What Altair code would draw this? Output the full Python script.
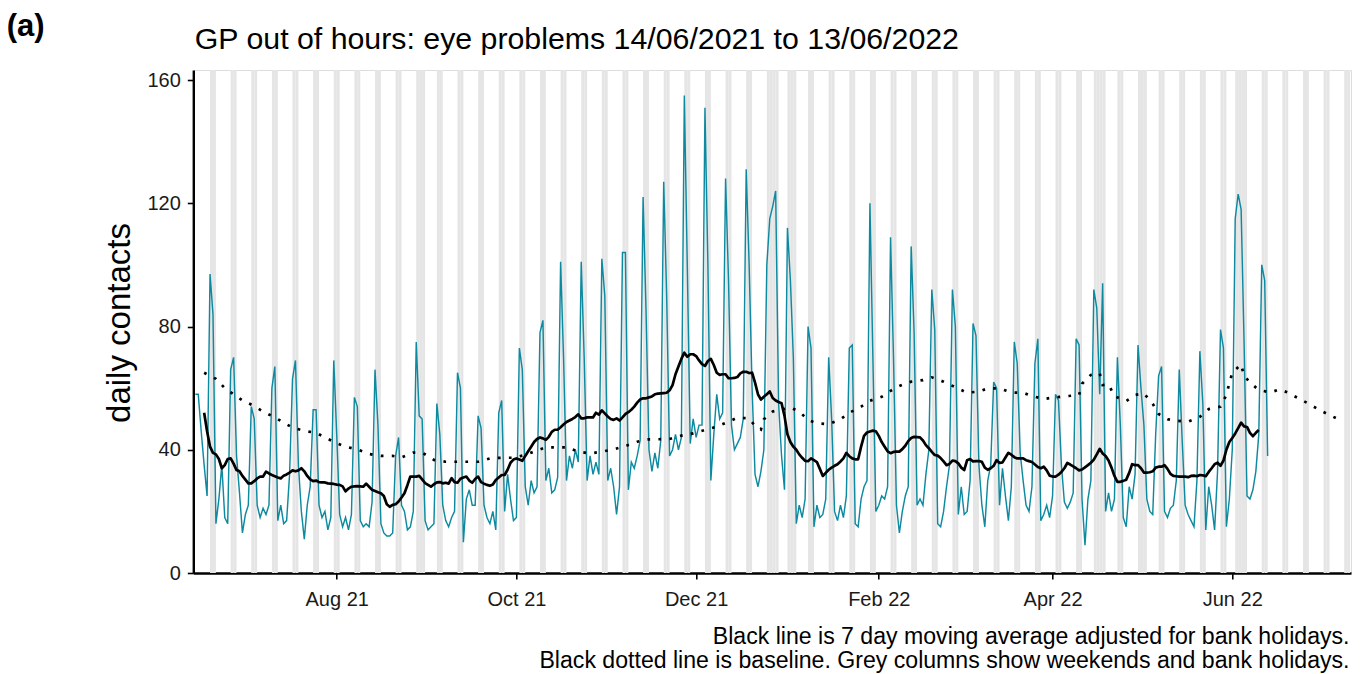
import altair as alt
import pandas as pd

FONT = "Liberation Sans"
TEAL = "#0E8AA0"
SHADE = "#E5E5E5"

START = "2021-06-14"

# daily contacts, Mon 14/06/2021 .. Mon 13/06/2022 (one row per week, Mon..Sun)
contacts = [
    58, 58, 46, 35, 25, 97, 84,
    16, 24, 35, 18, 16, 66, 70,
    38, 26, 13, 19, 22, 54, 50,
    22, 18, 21, 19, 22, 60, 67,
    17, 22, 16, 17, 32, 63, 69,
    35, 20, 11, 22, 28, 53, 53,
    22, 18, 20, 14, 18, 69, 45,
    19, 15, 18, 14, 19, 57, 54,
    17, 15, 16, 15, 23, 66, 48,
    16, 13, 12, 12, 13, 38, 44,
    22, 20, 14, 15, 20, 75, 51,
    50, 17, 14, 15, 16, 55, 45,
    22, 17, 15, 18, 20, 65, 60,
    10, 24, 27, 22, 22, 51, 47,
    22, 18, 16, 20, 14, 52, 56,
    20, 32, 24, 17, 18, 73, 66,
    28, 22, 30, 26, 28, 78, 82,
    30, 34, 26, 27, 31, 101, 70,
    30, 38, 34, 40, 36, 101, 70,
    30, 38, 32, 36, 32, 102, 90,
    30, 34, 28, 19, 28, 104, 104,
    27, 36, 34, 38, 43, 122, 85,
    40, 33, 39, 34, 43, 127, 90,
    38, 40, 45, 40, 44, 155, 100,
    42, 50, 44, 48, 48, 151, 100,
    30, 45, 58, 50, 52, 128, 95,
    48, 40, 42, 44, 50, 131, 100,
    60, 32, 28, 33, 40, 100, 115,
    119, 124, 55, 38, 27, 112, 95,
    70, 16, 22, 18, 24, 80, 73,
    15, 22, 18, 19, 24, 70, 50,
    20, 17, 22, 18, 25, 73, 74,
    16, 15, 24, 28, 30, 120, 70,
    20, 22, 25, 24, 28, 109, 70,
    22, 13, 20, 25, 28, 106, 78,
    22, 24, 22, 32, 40, 92, 79,
    16, 15, 20, 28, 35, 92, 80,
    19, 28, 19, 20, 30, 81, 77,
    35, 22, 15, 30, 35, 62, 60,
    22, 34, 25, 17, 28, 75, 68,
    39, 30, 22, 20, 28, 68, 76,
    17, 19, 22, 18, 25, 58, 56,
    35, 23, 21, 23, 26, 76, 74,
    24, 9, 24, 30, 92, 86, 58,
    94, 20, 26, 20, 24, 70, 48,
    18, 15, 28, 24, 32, 74, 60,
    48, 24, 20, 19, 45, 64, 67,
    20, 18, 21, 22, 30, 66, 43,
    22, 19, 17, 15, 30, 72, 55,
    14, 28, 22, 14, 33, 79, 73,
    15, 24, 40, 115, 123, 118, 75,
    25, 24, 27, 33, 45, 100, 95,
    38,
]

# 7 day moving average (adjusted for bank holidays), first value on day 3
ma_first_day = 3
moving_avg = [
    52, 46, 41, 39, 38.5, 37, 34, 35, 37, 37.2, 35.5, 33.4, 33, 31.5, 30.3, 29.1, 29.1, 29.8,
    30.7, 31.3, 31.3, 32.9, 32.3, 31.8, 31.4, 31, 30.7, 31.6, 32, 32.6, 33.3, 33, 33.3, 34,
    33, 31.5, 30.4, 29.8, 30, 29.5, 29.4, 29.4, 29.1, 29, 28.9, 28.7, 28.6, 28.1, 26.5, 27.4,
    28, 28.1, 28.2, 28.1, 28, 29, 28, 27, 26.6, 26.2, 25.9, 25, 22.3, 21.5, 22.1, 22.3, 23.2,
    24.5, 25.9, 28.5, 31.3, 31.3, 31.3, 31.5, 30.4, 29.2, 28.6, 28, 28.8, 29.4, 29.5, 29.1,
    29.3, 29, 30.8, 29.5, 29.3, 30.6, 31, 31.3, 30, 29.3, 30.5, 31.3, 29.5, 29, 28.6, 28.3,
    28.7, 30.2, 31, 31.8, 31.8, 33.5, 35.8, 36.8, 37.2, 36.8, 36.4, 38, 39.5, 41, 42.5, 43.5,
    44, 43.7, 43.2, 44.2, 45.8, 46.5, 46.5, 47.3, 48.2, 49, 49.5, 50, 50.6, 51.5, 50.2, 50.2,
    50.5, 50.5, 50.5, 52, 51.4, 52.8, 51.8, 50.8, 50, 49.7, 50.2, 49.5, 50.5, 51.6, 52.2, 53,
    54, 55.3, 56.3, 56.7, 56.7, 57, 57.3, 58, 58.2, 58.3, 58.4, 58.5, 59.3, 61, 64.5, 67,
    69.5, 71.5, 70.2, 71, 71, 70.4, 69, 67.8, 67.2, 68.8, 69.5, 67.5, 65, 64.3, 64.5, 64.5,
    63.2, 63.2, 63.3, 63.6, 64.8, 65.3, 65.3, 64.9, 65, 61.8, 58, 56.3, 57.2, 58, 58.9, 56.8,
    56, 55.5, 55.1, 51, 45, 42.5, 41, 40, 38.5, 37.4, 36.4, 36.3, 37.2, 36.6, 36, 33.8, 31.5,
    32.5, 33.5, 34.2, 34.8, 35.3, 36.2, 37.2, 39, 37.9, 37.2, 36.9, 36.9, 41, 44.5, 45.6,
    45.9, 46.2, 46, 44.5, 42.5, 41, 39.5, 38.9, 39.3, 39.4, 39.4, 40.2, 41.3, 42.8, 43.8,
    44.2, 44.1, 44, 43, 41.5, 40.5, 39.3, 38.3, 38.1, 37.3, 36.2, 35, 35.4, 36.5, 36.3, 35.6,
    34.2, 33.4, 36.6, 37, 36.2, 36.3, 36.3, 36.1, 34.2, 33.5, 34, 34.8, 36.6, 35.7, 35.9,
    37.5, 39, 38.4, 37.6, 37.2, 37.2, 37.2, 36.6, 36.3, 36, 35.2, 34.4, 34, 34.5, 33.3, 31.6,
    31.3, 31.3, 31.9, 32.8, 34, 35.7, 35.2, 34.6, 34, 33.3, 33.6, 34.3, 35, 35.8, 36.8, 38.5,
    40.3, 38.8, 38, 36.5, 34.2, 31.5, 29.6, 29.6, 29.9, 30.3, 32.5, 35.3, 35, 35, 34, 32.6,
    32.6, 32.7, 33, 34.2, 34.5, 34.5, 35, 33.8, 32.2, 31.5, 31.4, 31.3, 31.3, 31.3, 31.1,
    31.5, 31.6, 31.4, 31.8, 31.7, 31.4, 32.8, 34, 35.3, 35.8, 34.8, 36.5, 40, 42.5, 43.8,
    45.3, 47, 48.8, 47.6, 47.4, 45.5, 44.4, 45.5, 46.4,
]

# baseline (day offset from 14/06/2021, value)
baseline_day = [
    3, 7, 10, 13, 16, 20, 23, 27, 30, 33, 37, 41, 44, 48, 51, 55, 59, 63, 67, 70, 74, 77, 81,
    85, 88, 92, 96, 100, 104, 108, 112, 115, 119, 123, 126, 130, 134, 138, 142, 146, 150,
    154, 157, 161, 165, 169, 173, 177, 181, 184, 188, 190, 192, 193, 196, 202, 205, 208,
    211, 215, 219, 222, 226, 229, 233, 236, 239, 243, 247, 250, 254, 258, 262, 266, 269,
    273, 277, 281, 284, 288, 292, 296, 300, 301, 304, 307, 308, 310, 312, 316, 319, 322,
    325, 327, 330, 333, 337, 341, 344, 348, 350, 351, 352, 355, 356, 359, 361, 365, 368,
    371, 375, 378, 382, 385, 389,
]
baseline_val = [
    65, 63, 60, 58, 56, 54.2, 52.4, 50.5, 48.8, 47.2, 46.1, 45.5, 44, 42.1, 41, 40.1, 38.6,
    38, 38, 37.5, 39.1, 39.1, 36.7, 36.1, 36.1, 36.1, 36.1, 37.2, 37.4, 37.4, 38.3, 39.4,
    40.8, 40.8, 40.8, 39.4, 38.8, 39.4, 40.1, 41.2, 42.6, 43.4, 43.4, 43.5, 44.6, 45.3, 46.4,
    47.5, 49.1, 50.4, 50.2, 47.7, 46.6, 49.9, 52.4, 53.7, 52.4, 49.7, 48.6, 48.3, 49.9, 52,
    54, 55.9, 57.2, 59.1, 60.7, 62.1, 62.6, 63.5, 62.1, 60.3, 58.5, 58.9, 59.9, 59.9, 58.6,
    58.5, 57.4, 56.5, 57, 57.4, 57.8, 61.4, 64.3, 64.8, 61, 61.2, 57.4, 55.8, 57.8, 58.3,
    54.9, 51.6, 49.9, 49.4, 49.1, 50.7, 53.2, 54, 57.8, 61.6, 65, 67.7, 63.9, 61, 59.4, 58.6,
    59.6, 58.5, 56.4, 54.9, 52.7, 51.3, 49.4,
]

bank_holidays = [
    "2021-08-30", "2021-12-27", "2021-12-28", "2022-01-03", "2022-04-15",
    "2022-04-18", "2022-05-02", "2022-06-02", "2022-06-03",
]
shade_until = "2022-07-10"

y_ticks = [0, 40, 80, 120, 160]
x_ticks = [(2021, 8), (2021, 10), (2021, 12), (2022, 2), (2022, 4), (2022, 6)]

title_text = "GP out of hours: eye problems 14/06/2021 to 13/06/2022"
tag_text = "(a)"
y_title = "daily contacts"
footer_1 = "Black line is 7 day moving average adjusted for bank holidays."
footer_2 = "Black dotted line is baseline. Grey columns show weekends and bank holidays."

# ---------------------------------------------------------------- tables
start = pd.Timestamp(START)
FMT = "%Y-%m-%dT%H:%M:%S"


def day(i):
    return (start + pd.Timedelta(days=i)).strftime(FMT)


daily_df = pd.DataFrame({"date": [day(i) for i in range(len(contacts))], "contacts": contacts})
ma_df = pd.DataFrame({"date": [day(ma_first_day + i) for i in range(len(moving_avg))],
                      "ma": moving_avg})
base_df = pd.DataFrame({"date": [day(d) for d in baseline_day], "baseline": baseline_val})

bh = set(pd.to_datetime(bank_holidays))
all_days = pd.date_range(start, pd.Timestamp(shade_until), freq="D")
shade_days = [d for d in all_days if d.weekday() >= 5 or d in bh]
shade_df = pd.DataFrame({
    "start": [d.strftime(FMT) for d in shade_days],
    "end": [(d + pd.Timedelta(days=1)).strftime(FMT) for d in shade_days],
})

# ---------------------------------------------------------------- layout
PLOT_W = 1157.7
PLOT_H = 503
PAD_L = 185.3
PAD_T = 62
PAD_R = 3
PAD_B = 107

xscale = alt.Scale(domain=[alt.DateTime(year=2021, month=6, date=13, hours=7, minutes=40),
                           alt.DateTime(year=2022, month=7, date=11, hours=7, minutes=10)])
yscale = alt.Scale(domain=[0, 163.25], nice=False, zero=True)

xaxis = alt.Axis(
    values=[alt.DateTime(year=y, month=m, date=1) for y, m in x_ticks],
    format="%b %y", title=None, grid=False,
    domainColor="black", domainWidth=2.4, tickColor="black", tickWidth=1.6, tickSize=6,
    labelFont=FONT, labelFontSize=20, labelColor="#1a1a1a", labelPadding=10,
)
yaxis = alt.Axis(
    values=y_ticks, title=None, grid=False,
    domainColor="black", domainWidth=2.4, tickColor="black", tickWidth=1.6, tickSize=6,
    labelFont=FONT, labelFontSize=20, labelColor="#1a1a1a", labelPadding=7,
)

shade = alt.Chart(shade_df).mark_rect(color=SHADE).encode(
    x=alt.X("start:T", scale=xscale, axis=xaxis),
    x2="end:T",
    y=alt.value(0),
    y2=alt.value(PLOT_H),
)

teal = alt.Chart(daily_df).mark_line(color=TEAL, strokeWidth=1.45).encode(
    x=alt.X("date:T", scale=xscale, axis=xaxis),
    y=alt.Y("contacts:Q", scale=yscale, axis=yaxis),
)

ma = alt.Chart(ma_df).mark_line(color="black", strokeWidth=2.7, strokeJoin="round").encode(
    x=alt.X("date:T", scale=xscale, axis=xaxis),
    y=alt.Y("ma:Q", scale=yscale, axis=yaxis),
)

base = alt.Chart(base_df).mark_line(
    color="black", strokeWidth=2.7, strokeDash=[2.7, 8.3], strokeCap="butt"
).encode(
    x=alt.X("date:T", scale=xscale, axis=xaxis),
    y=alt.Y("baseline:Q", scale=yscale, axis=yaxis),
)


def label(text, x, y, size, align="left", weight="normal", angle=0, baseline="alphabetic"):
    props = dict(text=text, font=FONT, fontSize=size, align=align, fontWeight=weight,
                 baseline=baseline, color="black")
    if angle:
        props["angle"] = angle
    return alt.Chart(pd.DataFrame({"t": [text]})).mark_text(**props).encode(
        x=alt.value(x), y=alt.value(y))


texts = [
    label(tag_text, -186.5, -34, 31, weight="bold"),
    label(title_text, 1.5, -21, 30.3),
    label(y_title, -73, 253, 33, align="center", angle=270, baseline="middle"),
    label(footer_1, PLOT_W - 1.5, 574, 23.1, align="right"),
    label(footer_2, PLOT_W - 1.5, 598, 23.1, align="right"),
]

chart = alt.layer(shade, teal, base, ma, *texts).properties(
    width=PLOT_W,
    height=PLOT_H,
    autosize=alt.AutoSizeParams(type="none"),
    padding={"left": PAD_L, "top": PAD_T, "right": PAD_R, "bottom": PAD_B},
).configure_view(stroke=None).configure(background="white")

chart.save("out.html", embed_options={"renderer": "svg", "actions": False})
